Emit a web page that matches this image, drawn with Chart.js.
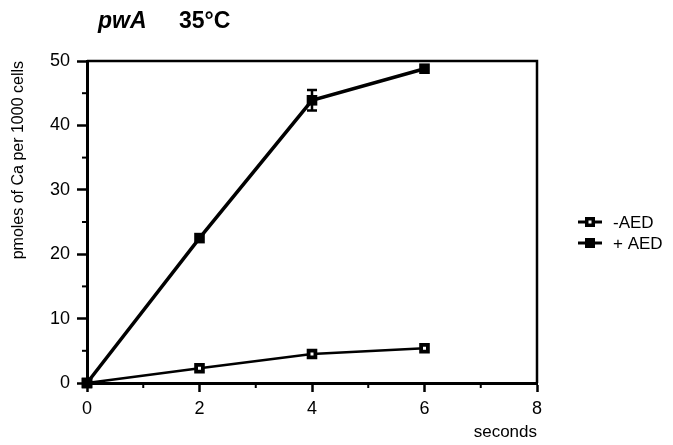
<!DOCTYPE html>
<html>
<head>
<meta charset="utf-8">
<script src="https://cdn.jsdelivr.net/npm/chart.js@4.4.1/dist/chart.umd.min.js"></script>
<style>
  html, body { margin: 0; padding: 0; background: #fff; }
</style>
</head>
<body>
<canvas id="chart" width="673" height="445"></canvas>
<script>
const seconds = [0, 2, 4, 6]
const minusAED = [0, 2.3, 4.5, 5.4]
const plusAED = [0, 22.5, 43.9, 48.8]
const plusAEDErr = [0, 0, 1.6, 0]
const seriesLabels = ['-AED', '+ AED']
const xTickLabels = [0, 2, 4, 6, 8]
const yTickLabels = [0, 10, 20, 30, 40, 50]

const FONT = "'Liberation Sans', Arial, Helvetica, sans-serif"

// frame on top/right + short minor ticks
const frame = {
  id: 'frame',
  afterDraw (chart) {
    const { ctx, chartArea: a, scales: { x, y } } = chart
    ctx.save()
    ctx.strokeStyle = '#000'
    ctx.lineWidth = 2.5
    ctx.beginPath()
    ctx.moveTo(a.left, a.top)
    ctx.lineTo(a.right, a.top)
    ctx.lineTo(a.right, a.bottom)
    ctx.stroke()
    ctx.lineWidth = 2
    x.ticks.forEach(t => {
      if (xTickLabels.includes(t.value)) return
      const px = x.getPixelForValue(t.value)
      ctx.beginPath(); ctx.moveTo(px, a.bottom); ctx.lineTo(px, a.bottom + 5); ctx.stroke()
    })
    y.ticks.forEach(t => {
      if (yTickLabels.includes(t.value)) return
      const py = y.getPixelForValue(t.value)
      ctx.beginPath(); ctx.moveTo(a.left, py); ctx.lineTo(a.left - 5, py); ctx.stroke()
    })
    ctx.restore()
  }
}

const errorBars = {
  id: 'errorBars',
  afterDatasetsDraw (chart) {
    const { ctx, scales: { x, y } } = chart
    ctx.save()
    ctx.strokeStyle = '#000'
    ctx.lineWidth = 2.5
    plusAEDErr.forEach((e, i) => {
      if (!e) return
      const px = x.getPixelForValue(seconds[i])
      const top = y.getPixelForValue(plusAED[i] + e)
      const bot = y.getPixelForValue(plusAED[i] - e)
      ctx.beginPath()
      ctx.moveTo(px, top); ctx.lineTo(px, bot)
      ctx.moveTo(px - 5, top); ctx.lineTo(px + 5, top)
      ctx.moveTo(px - 5, bot); ctx.lineTo(px + 5, bot)
      ctx.stroke()
    })
    ctx.restore()
  }
}

const heading = {
  id: 'heading',
  afterDraw (chart) {
    const { ctx } = chart
    ctx.save()
    ctx.fillStyle = '#000'
    ctx.textBaseline = 'alphabetic'
    ctx.font = 'italic bold 23px ' + FONT
    ctx.fillText('pwA', 98, 28)
    ctx.font = 'bold 23px ' + FONT
    ctx.fillText('35°C', 179, 28)
    ctx.restore()
  }
}

const sideLegend = {
  id: 'sideLegend',
  afterDraw (chart) {
    const { ctx, chartArea: a } = chart
    const x0 = a.right + 41
    ctx.save()
    ctx.font = '17px ' + FONT
    ctx.textBaseline = 'middle'
    chart.data.datasets.forEach((ds, i) => {
      const cy = 222 + i * 21
      ctx.strokeStyle = '#000'
      ctx.lineWidth = 3
      ctx.beginPath(); ctx.moveTo(x0, cy); ctx.lineTo(x0 + 24, cy); ctx.stroke()
      ctx.fillStyle = '#000'
      ctx.fillRect(x0 + 7, cy - 5, 10, 10)
      if (ds.backgroundColor === '#fff') {
        ctx.fillStyle = '#fff'
        ctx.fillRect(x0 + 10.5, cy - 1.5, 3, 3)
      }
      ctx.fillStyle = '#000'
      ctx.fillText(ds.label, x0 + 35, cy + 1)
    })
    ctx.restore()
  }
}

const ctx = document.getElementById('chart').getContext('2d')
new Chart(ctx, {
  type: 'line',
  data: {
    labels: seconds,
    datasets: [
      {
        label: seriesLabels[0],
        data: seconds.map((s, i) => ({ x: s, y: minusAED[i] })),
        order: 1,
        borderColor: '#000',
        borderWidth: 2.5,
        backgroundColor: '#fff',
        pointStyle: 'rect',
        pointRadius: 4.8,
        pointBorderWidth: 3.8,
        pointBorderColor: '#000',
        pointBackgroundColor: '#fff',
        tension: 0,
        clip: false
      },
      {
        label: seriesLabels[1],
        data: seconds.map((s, i) => ({ x: s, y: plusAED[i] })),
        order: 0,
        borderColor: '#000',
        borderWidth: 3.5,
        backgroundColor: '#000',
        pointStyle: 'rect',
        pointRadius: 7.5,
        pointBorderWidth: 0,
        pointBackgroundColor: '#000',
        tension: 0,
        clip: false
      }
    ]
  },
  options: {
    responsive: false,
    animation: false,
    devicePixelRatio: 1,
    layout: { padding: { top: 61, right: 136, left: 0, bottom: 0 } },
    plugins: {
      legend: { display: false },
      tooltip: { enabled: false }
    },
    scales: {
      x: {
        type: 'linear',
        min: 0,
        max: 8,
        afterFit: s => { s.height = 62 },
        border: { color: '#000', width: 3 },
        grid: {
          drawOnChartArea: false,
          tickLength: 9,
          tickWidth: 2.5,
          tickColor: c => xTickLabels.includes(c.tick.value) ? '#000' : 'rgba(0,0,0,0)'
        },
        ticks: {
          stepSize: 1,
          padding: 6,
          color: '#000',
          font: { family: FONT, size: 18 },
          callback: v => xTickLabels.includes(v) ? String(v) : ''
        },
        title: {
          display: true,
          text: 'seconds',
          align: 'end',
          color: '#000',
          font: { family: FONT, size: 17 },
          padding: { top: 0, bottom: 2 }
        }
      },
      y: {
        min: 0,
        max: 50,
        afterFit: s => { s.width = 87 },
        border: { color: '#000', width: 3 },
        grid: {
          drawOnChartArea: false,
          tickLength: 10,
          tickWidth: 2.5,
          tickColor: c => yTickLabels.includes(c.tick.value) ? '#000' : 'rgba(0,0,0,0)'
        },
        ticks: {
          stepSize: 5,
          padding: 7,
          color: '#000',
          font: { family: FONT, size: 18 },
          callback: v => yTickLabels.includes(v) ? String(v) : ''
        },
        title: {
          display: true,
          text: 'pmoles of Ca per 1000 cells',
          align: 'end',
          color: '#000',
          font: { family: FONT, size: 16 },
          padding: { top: 9, bottom: 0 }
        }
      }
    }
  },
  plugins: [frame, errorBars, heading, sideLegend]
})
</script>
</body>
</html>
